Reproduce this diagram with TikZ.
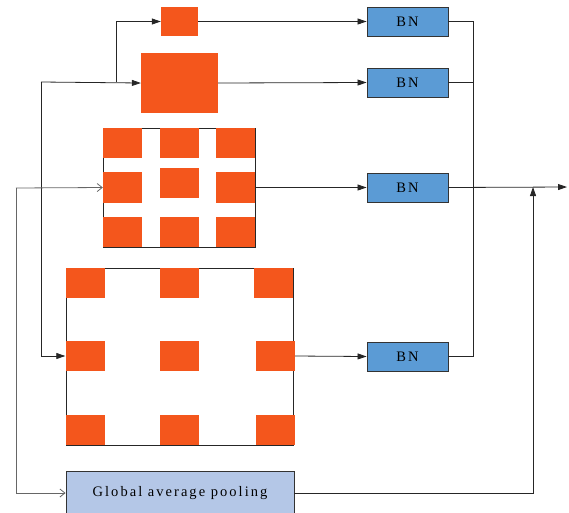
\documentclass[tikz,border=0pt]{standalone}
\usepackage{fontspec}
\setmainfont{Liberation Serif}[LetterSpace=14]
\usepackage{tikz}
\usetikzlibrary{arrows.meta}
\definecolor{sqorange}{HTML}{F4561C}
\definecolor{bnblue}{HTML}{5B9BD5}
\definecolor{gapblue}{HTML}{B4C7E7}

\begin{document}
\begin{tikzpicture}[
      x=1pt, y=-1pt,
      sq/.style={
        rectangle, fill=sqorange,
        inner sep=0pt, minimum width=39pt, minimum height=30pt
      },
      frame/.style={rectangle, draw=black!85, line width=0.8pt, inner sep=0pt},
      bn/.style={
        rectangle, draw=black!80, fill=bnblue, line width=0.9pt,
        minimum width=81pt, minimum height=29pt, font=\fontsize{14.5}{16}\selectfont
      },
      gap/.style={
        rectangle, draw=black!80, fill=gapblue, line width=0.9pt,
        minimum width=228pt, minimum height=44pt, font=\fontsize{14.5}{16}\selectfont
      },
      wire/.style={draw=black!85, line width=0.8pt},
      tri/.style={wire, -{Triangle[length=9pt,width=6pt]}},
      barb/.style={wire, draw=black!60, -{Straight Barb[length=5pt,width=8pt]}}
    ]
      \clip (0,0) rectangle (569,512);

      % plain convolutions
      \node[sq, minimum width=37pt, minimum height=29pt] (small) at (179.5,21.5){};
      \node[sq, minimum width=77pt, minimum height=60pt] (big) at (179.5,83){};

      % first dilated kernel
      \node[frame, minimum width=152pt, minimum height=119pt] (gridA) at (179,187.5){};
      \foreach \x/\c in {122.5/a,179.5/b,235.5/c} {
        \node[sq] (A1\c) at (\x,143){};
        \node[sq] (A3\c) at (\x,232){};
      }
      \node[sq, minimum height=31pt] (A2a) at (122.5,187.5){};
      \node[sq] (A2b) at (179.5,183){};
      \node[sq, minimum height=31pt] (A2c) at (235.5,187.5){};

      % second dilated kernel
      \node[frame, minimum width=227pt, minimum height=177pt] (gridB) at (179.5,356.5){};
      \foreach \x/\c in {85/a,179/b} {
        \node[sq] (B1\c) at (\x,283){};
        \node[sq] (B2\c) at (\x,356){};
        \node[sq] (B3\c) at (\x,430){};
      }
      \node[sq] (B1c) at (273.5,283){};
      \node[sq] (B2c) at (275.5,356){};
      \node[sq] (B3c) at (275.5,430){};

      \node[gap] (pool) at (180,493){Global average pooling};

      \foreach \y/\n in {21.5/bn1,82.5/bn2,187.5/bn3,356.5/bn4} {
        \node[bn] (\n) at (407.5,\y){BN};
      }

      % inputs
      \coordinate (inA) at (41,82);
      \coordinate (inB) at (116,82);
      \coordinate (inC) at (16,188);
      \draw[tri] (inA) -- (big.west);
      \draw[tri] (inB) |- (small.west);
      \draw[tri] (inA) |- (B2a.west);
      \draw[barb] (inC) -- (A2a.west);
      \draw[barb] (inC) |- (pool.west);

      % to BN
      \draw[tri] (small.east) -- (bn1.west);
      \draw[tri] (big.east) -- (bn2.west);
      \draw[tri] (A2c.east) -- (bn3.west);
      \draw[tri] (B2c.east) -- (bn4.west);

      % merge
      \coordinate (out) at (567,187);
      \coordinate (join) at (533,187);
      \draw[wire] (bn1.east) -- ++(25,0) |- (bn4.east);
      \draw[wire] (bn2.east) -- ++(25,0);
      \draw[tri] (bn3.east) -- (out);
      \draw[tri] (pool.east) -| (join);
    \end{tikzpicture}
\end{document}
